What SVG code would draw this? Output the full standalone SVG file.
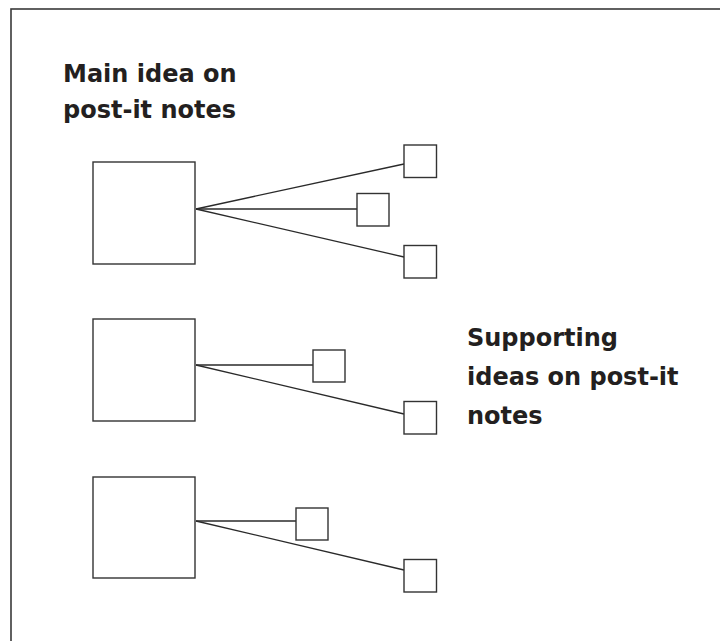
<svg xmlns="http://www.w3.org/2000/svg" width="720" height="641" viewBox="0 0 720 641">
<style>
.frame{fill:none;stroke:#3a3a3a;stroke-width:1.6}
.box{fill:#fff;stroke:#333;stroke-width:1.4}
.con line{stroke:#2a2a2a;stroke-width:1.3}
.lbl{font-family:"DejaVu Sans","Liberation Sans",sans-serif;font-weight:bold;font-size:24px;fill:#231f20}
</style>
<rect width="720" height="641" fill="#fff"/>
<rect class="frame" x="11" y="9" width="720" height="650"/>
<g id="connectors" class="con">
<line x1="196" y1="209" x2="404" y2="164"/>
<line x1="196" y1="209" x2="357" y2="209"/>
<line x1="196" y1="209" x2="404" y2="257"/>
<line x1="196" y1="365" x2="313" y2="365"/>
<line x1="196" y1="365" x2="404" y2="414"/>
<line x1="196" y1="521" x2="296" y2="521"/>
<line x1="196" y1="521" x2="404" y2="570"/>
</g>
<g id="main1"><rect class="box" x="93" y="162" width="102" height="102"/></g>
<g id="main2"><rect class="box" x="93" y="319" width="102" height="102"/></g>
<g id="main3"><rect class="box" x="93" y="477" width="102" height="101"/></g>
<g id="s1a"><rect class="box" x="404" y="145" width="32.5" height="32.5"/></g>
<g id="s1b"><rect class="box" x="357" y="193.5" width="32" height="32.5"/></g>
<g id="s1c"><rect class="box" x="404" y="245.5" width="32.5" height="32.5"/></g>
<g id="s2a"><rect class="box" x="313" y="350" width="32" height="32"/></g>
<g id="s2b"><rect class="box" x="404" y="401.5" width="32.5" height="32.5"/></g>
<g id="s3a"><rect class="box" x="296" y="508" width="32" height="32"/></g>
<g id="s3b"><rect class="box" x="404" y="559.5" width="32.5" height="32.5"/></g>
<g id="label-main">
<text class="lbl" x="63" y="82">Main idea on</text>
<text class="lbl" x="63" y="118">post-it notes</text>
</g>
<g id="label-supporting">
<text class="lbl" x="467" y="346">Supporting</text>
<text class="lbl" x="467" y="385">ideas on post-it</text>
<text class="lbl" x="467" y="424">notes</text>
</g>
</svg>
